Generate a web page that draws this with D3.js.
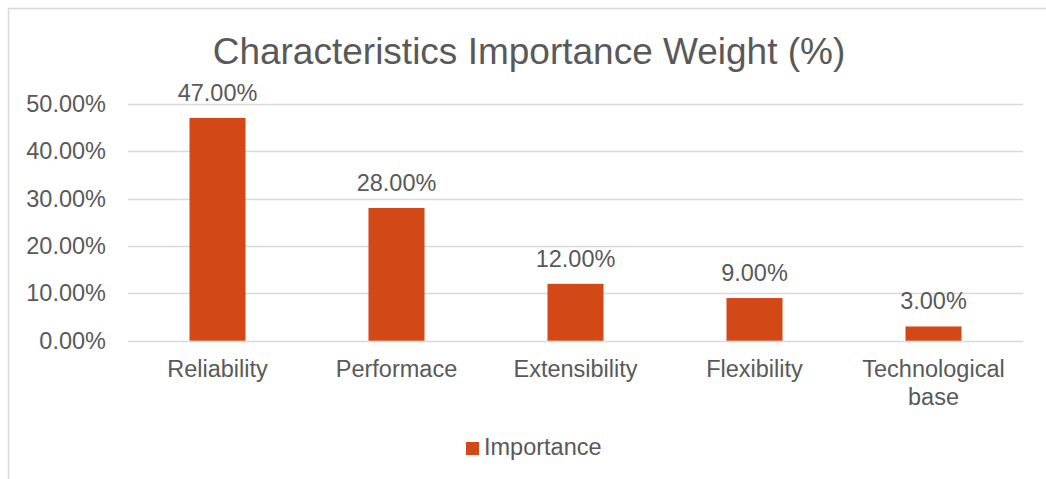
<!DOCTYPE html>
<html>
<head>
<meta charset="utf-8">
<script src="https://cdn.jsdelivr.net/npm/d3@7"></script>
<style>
body { margin:0; background:#fff; }
text { font-family: "Liberation Sans", Arial, sans-serif; fill:#595959; }
</style>
</head>
<body>
<div id="chart"></div>
<script>
var width = 1046;
var height = 479;

var categories = ["Reliability", "Performace", "Extensibility", "Flexibility", "Technological base"];
var importance = [0.47, 0.28, 0.12, 0.09, 0.03];
var yTicks = [0, 0.1, 0.2, 0.3, 0.4, 0.5];
var seriesName = "Importance";
var title = "Characteristics Importance Weight (%)";

var plot = {left:128, right:1023, top:103.7, bottom:340.7};
var barColor = "#D34817";
var gridColor = "#D9D9D9";
var labelSize = "23.5px";

var svg = d3.select("#chart")
            .append("svg")
            .attr("width", width)
            .attr("height", height);

// chart frame
svg.append("rect")
    .attr("x", 8.5).attr("y", 8.5)
    .attr("width", 1046).attr("height", 500)
    .style("fill", "none")
    .style("stroke", gridColor)
    .style("stroke-width", 1.5);

svg.append("text")
    .attr("x", 529).attr("y", 64)
    .attr("text-anchor", "middle")
    .style("font-size", "37px")
    .text(title);

var x = d3.scaleBand()
            .domain(categories)
            .range([plot.left, plot.right])
            .paddingInner(0.687)
            .paddingOuter(0.3435);

var y = d3.scaleLinear()
            .domain([0, 0.5])
            .range([plot.bottom, plot.top]);

var fmt = function(d){ return (d*100).toFixed(2) + "%"; };

// gridlines
svg.append("g")
    .selectAll("line")
    .data(yTicks)
    .enter()
    .append("line")
    .attr("x1", plot.left).attr("x2", plot.right)
    .attr("y1", function(d){ return Math.round(y(d)) + 0.5; })
    .attr("y2", function(d){ return Math.round(y(d)) + 0.5; })
    .style("stroke", gridColor)
    .style("stroke-width", 1.5);

// y axis labels
var yAxis = svg.append("g")
    .attr("transform", "translate(" + (plot.left - 22) + ",0)")
    .call(d3.axisLeft(y).tickValues(yTicks).tickFormat(fmt).tickSize(0).tickPadding(0));
yAxis.select(".domain").remove();
yAxis.selectAll("text")
    .style("font-size", labelSize)
    .style("fill", "#595959")
    .style("font-family", '"Liberation Sans", Arial, sans-serif');

// bars
svg.append("g")
    .selectAll("rect")
    .data(importance)
    .enter()
    .append("rect")
    .attr("x", function(d, i){ return x(categories[i]); })
    .attr("width", x.bandwidth())
    .attr("y", function(d){ return y(d); })
    .attr("height", function(d){ return y(0) - y(d); })
    .style("fill", barColor);

// data labels
svg.append("g")
    .selectAll("text")
    .data(importance)
    .enter()
    .append("text")
    .attr("x", function(d, i){ return x(categories[i]) + x.bandwidth()/2; })
    .attr("y", function(d){ return y(d) - 17; })
    .attr("text-anchor", "middle")
    .style("font-size", labelSize)
    .text(fmt);

// category labels (wrapped)
var catLabels = svg.append("g")
    .selectAll("text")
    .data(categories)
    .enter()
    .append("text")
    .attr("text-anchor", "middle")
    .style("font-size", labelSize)
    .attr("transform", function(d){ return "translate(" + (x(d) + x.bandwidth()/2) + ",377)"; });

catLabels.each(function(d){
    var words = d.length > 14 ? d.split(" ") : [d];
    var t = d3.select(this);
    words.forEach(function(w, k){
        t.append("tspan").attr("x", 0).attr("y", k*28).text(w);
    });
});

// legend
var legend = svg.append("g").attr("transform", "translate(466,442)");
legend.append("rect")
    .attr("width", 13).attr("height", 13)
    .style("fill", barColor);
legend.append("text")
    .attr("x", 18).attr("y", 13)
    .style("font-size", labelSize)
    .text(seriesName);
</script>
</body>
</html>
